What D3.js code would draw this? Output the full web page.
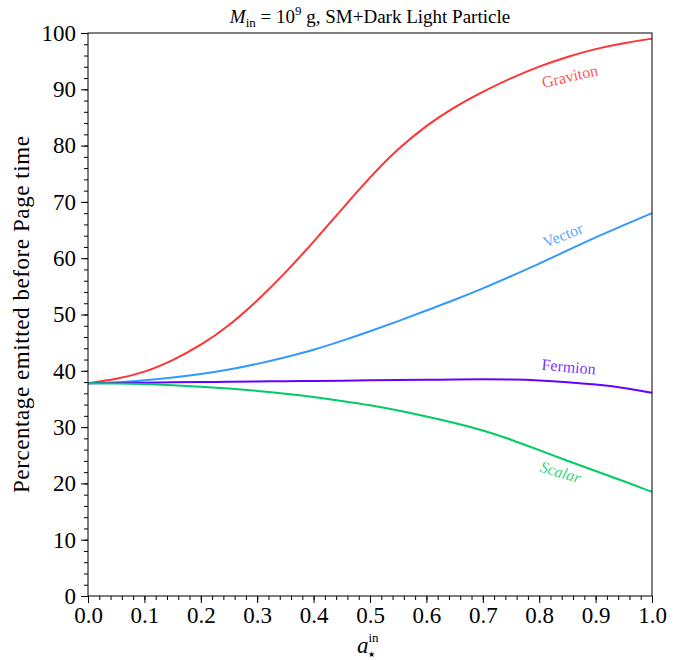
<!DOCTYPE html>
<html>
<head>
<meta charset="utf-8">
<script src="https://cdn.jsdelivr.net/npm/d3@7"></script>
<style>
body{margin:0;background:#fff;}
svg{display:block;}
svg text{font-family:"Liberation Serif","DejaVu Serif",serif;}
</style>
</head>
<body>
<svg id="chart" width="680" height="660"></svg>
<script>
const aValues = [0,0.05,0.1,0.15,0.2,0.25,0.3,0.35,0.4,0.45,0.5,0.55,0.6,0.65,0.7,0.75,0.8,0.85,0.9,0.95,1.0];
const graviton = [37.8,38.5,39.7,41.8,44.5,48.0,52.4,57.4,62.9,68.7,74.4,79.5,83.6,86.9,89.6,92.0,94.1,95.8,97.2,98.2,99.0];
const vector   = [37.8,37.9,38.3,38.8,39.4,40.2,41.2,42.4,43.7,45.3,47.0,48.8,50.7,52.6,54.6,56.8,59.0,61.4,63.7,65.9,68.0];
const fermion  = [37.8,37.8,37.9,37.95,38.0,38.05,38.1,38.15,38.2,38.25,38.3,38.35,38.4,38.45,38.5,38.45,38.3,38.0,37.6,37.0,36.1];
const scalar   = [37.8,37.75,37.65,37.45,37.2,36.85,36.45,35.95,35.35,34.65,33.9,32.95,31.9,30.75,29.45,27.8,25.9,24.0,22.2,20.4,18.5];
const seriesNames = ["Graviton","Vector","Fermion","Scalar"];
const xTicks = [0,0.1,0.2,0.3,0.4,0.5,0.6,0.7,0.8,0.9,1.0];
const yTicks = [0,10,20,30,40,50,60,70,80,90,100];

const FONT = "Liberation Serif, DejaVu Serif, serif";
const colors = {Graviton:"#ff3333",Vector:"#3399ff",Fermion:"#6600ff",Scalar:"#00cc66"};
const seriesData = {Graviton:graviton,Vector:vector,Fermion:fermion,Scalar:scalar};
const labelPos = {
  Graviton:{a:0.855,v:92.0,rot:-13},
  Vector:{a:0.843,v:63.8,rot:-22},
  Fermion:{a:0.852,v:40.4,rot:5},
  Scalar:{a:0.837,v:21.7,rot:17}
};

const svg = d3.select("#chart");
const m = {l:88,r:28,t:33,b:64};
const W = 680, H = 660;
const x = d3.scaleLinear().domain([0,1]).range([m.l, W-m.r]);
const y = d3.scaleLinear().domain([0,100]).range([H-m.b, m.t]);

// x axis
const xMinor = d3.range(0,1.0001,0.02);
const gx = svg.append("g").attr("transform",`translate(0,${H-m.b})`);
gx.call(d3.axisBottom(x).tickValues(xMinor).tickSize(4).tickFormat(""));
gx.select(".domain").remove();
const gx2 = svg.append("g").attr("transform",`translate(0,${H-m.b})`);
gx2.call(d3.axisBottom(x).tickValues(xTicks).tickSize(7).tickPadding(4).tickFormat(d3.format(".1f")));
gx2.select(".domain").remove();
gx2.selectAll("text").attr("font-size",23).attr("font-family",FONT).attr("fill","#000");

// y axis
const yMinor = d3.range(0,100.001,2);
const gy = svg.append("g").attr("transform",`translate(${m.l},0)`);
gy.call(d3.axisLeft(y).tickValues(yMinor).tickSize(4).tickFormat(""));
gy.select(".domain").remove();
const gy2 = svg.append("g").attr("transform",`translate(${m.l},0)`);
gy2.call(d3.axisLeft(y).tickValues(yTicks).tickSize(7).tickPadding(5).tickFormat(d3.format("d")));
gy2.select(".domain").remove();
gy2.selectAll("text").attr("font-size",23).attr("font-family",FONT).attr("fill","#000");
svg.selectAll(".tick line").attr("stroke","#000");

// lines
const line = d3.line().x((d,i)=>x(aValues[i])).y(d=>y(d)).curve(d3.curveBasis);
seriesNames.forEach(n=>{
  svg.append("path").datum(seriesData[n]).attr("d",line).attr("fill","none")
    .attr("stroke",colors[n]).attr("stroke-width",2);
});

// frame
svg.append("rect").attr("x",m.l).attr("y",m.t).attr("width",W-m.r-m.l).attr("height",H-m.b-m.t)
  .attr("fill","none").attr("stroke","#000").attr("stroke-width",1);

// labels
seriesNames.forEach(n=>{
  const p = labelPos[n];
  const t = svg.append("text").attr("transform",`translate(${x(p.a)},${y(p.v)}) rotate(${p.rot})`)
    .attr("text-anchor","middle").attr("dominant-baseline","middle")
    .attr("font-family",FONT).attr("font-size",16).attr("fill",colors[n]).attr("fill-opacity",0.85);
  if(n==="Scalar") t.attr("font-style","italic");
  t.text(n);
});

// title
const title = svg.append("text").attr("x",(m.l+W-m.r)/2).attr("y",23).attr("text-anchor","middle")
  .attr("font-family",FONT).attr("font-size",19).attr("fill","#000");
title.append("tspan").attr("font-style","italic").text("M");
title.append("tspan").attr("font-size",13).attr("dy",4).text("in");
title.append("tspan").attr("dy",-4).text(" = 10");
title.append("tspan").attr("font-size",13).attr("dy",-8).text("9");
title.append("tspan").attr("dy",8).text(" g, SM+Dark Light Particle");

// x label
const xl = svg.append("text").attr("x",357).attr("y",653).attr("text-anchor","start")
  .attr("font-family",FONT).attr("font-size",23).attr("fill","#000");
xl.append("tspan").attr("font-style","italic").text("a");
xl.append("tspan").attr("font-size",13).attr("dy",-11).text("in");
svg.append("text").attr("x",368).attr("y",657).attr("text-anchor","start")
  .attr("font-family",FONT).attr("font-size",8).attr("fill","#000").text("\u2605");

// y label
svg.append("text").attr("transform",`translate(29,${(m.t+H-m.b)/2}) rotate(-90)`)
  .attr("text-anchor","middle").attr("font-family",FONT).attr("font-size",23).attr("fill","#000")
  .attr("textLength",357).attr("lengthAdjust","spacing")
  .text("Percentage emitted before Page time");
</script>
</body>
</html>
